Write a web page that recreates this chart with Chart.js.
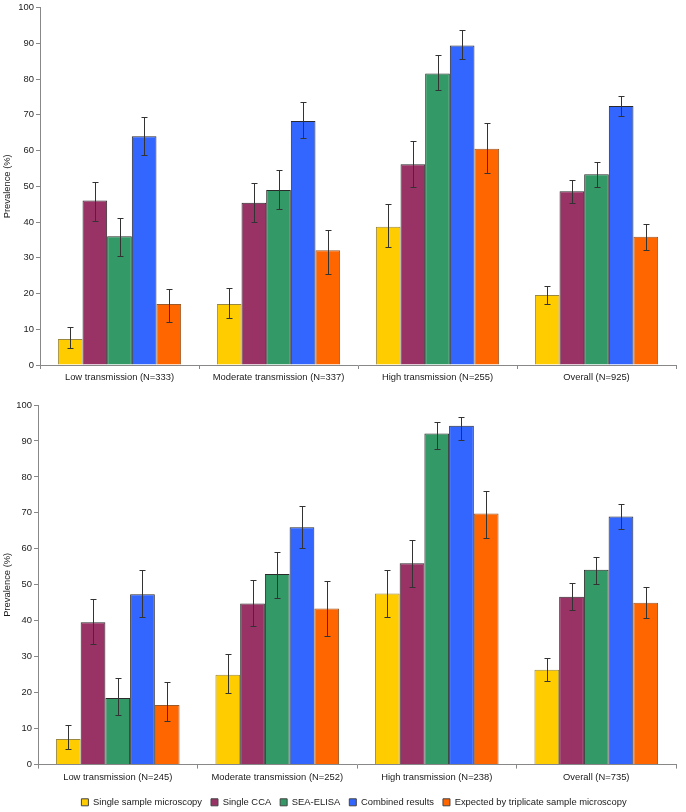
<!DOCTYPE html>
<html>
<head>
<meta charset="utf-8">
<script src="https://cdn.jsdelivr.net/npm/chart.js@4.4.1/dist/chart.umd.min.js"></script>
<style>
  body { margin: 0; background: #fff; overflow: hidden; }
  .box { position: absolute; left: 0; width: 686px; }
  #top-box { top: 0; height: 390px; }
  #bottom-box { top: 390px; height: 427px; }
</style>
</head>
<body>
<div class="box" id="top-box"><canvas id="topChart"></canvas></div>
<div class="box" id="bottom-box"><canvas id="bottomChart"></canvas></div>
<script>
// Dados dos dois gráficos
const seriesNames = ['Single sample microscopy', 'Single CCA', 'SEA-ELISA', 'Combined results', 'Expected by triplicate sample microscopy'];
const seriesColors = ['#FFCC00', '#993366', '#339966', '#3366FF', '#FF6600'];
const seriesBorders = ['#9a8840', '#2a2a2a', '#2a2a2a', '#2a2a2a', '#9a5a2a'];

const topLabels = ['Low transmission (N=333)', 'Moderate transmission (N=337)', 'High transmission (N=255)', 'Overall (N=925)'];
const bottomLabels = ['Low transmission (N=245)', 'Moderate transmission (N=252)', 'High transmission (N=238)', 'Overall (N=735)'];
const yTicks = [0, 10, 20, 30, 40, 50, 60, 70, 80, 90, 100];

// Gráfico de cima: valores e intervalos [baixo, alto]
const topMicroscopy = [7.3, 17.1, 38.7, 19.6];
const topMicroscopyErr = [[4.8, 10.7], [13.2, 21.5], [32.9, 45.1], [17.1, 22.2]];
const topCCA = [46.0, 45.4, 56.2, 48.6];
const topCCAErr = [[40.4, 51.3], [40.0, 50.9], [49.9, 62.6], [45.2, 51.7]];
const topElisa = [36.0, 49.0, 81.6, 53.4];
const topElisaErr = [[30.6, 41.2], [43.6, 54.5], [77.0, 86.8], [49.9, 56.7]];
const topCombined = [64.0, 68.3, 89.4, 72.5];
const topCombinedErr = [[58.9, 69.5], [63.5, 73.5], [85.7, 93.8], [69.6, 75.3]];
const topTriplicate = [17.1, 32.1, 60.5, 35.9];
const topTriplicateErr = [[11.9, 21.2], [25.6, 37.8], [53.8, 67.7], [32.1, 39.5]];

// Gráfico de baixo
const bottomMicroscopy = [7.1, 25.0, 47.6, 26.4];
const bottomMicroscopyErr = [[4.3, 11.1], [19.9, 30.8], [41.0, 54.2], [23.3, 29.7]];
const bottomCCA = [39.6, 44.8, 56.0, 46.7];
const bottomCCAErr = [[33.4, 46.1], [38.6, 51.4], [49.4, 62.4], [43.0, 50.5]];
const bottomElisa = [18.5, 53.0, 92.1, 54.2];
const bottomElisaErr = [[13.9, 24.0], [46.4, 59.2], [87.8, 95.2], [50.3, 57.8]];
const bottomCombined = [47.4, 66.0, 94.2, 69.0];
const bottomCombinedErr = [[41.0, 54.0], [60.2, 71.8], [90.3, 96.8], [65.6, 72.4]];
const bottomTriplicate = [16.6, 43.4, 69.8, 45.0];
const bottomTriplicateErr = [[12.1, 23.0], [35.8, 51.1], [63.0, 76.0], [40.8, 49.5]];

const FONT = 'Liberation Sans, Arial, sans-serif';
const FONT_SIZE = 9.4;

// Barras de erro desenhadas a partir das escalas
const errorBarPlugin = {
    id: 'errorBars',
    afterDatasetsDraw(chart) {
        const ctx = chart.ctx;
        const yScale = chart.scales.y;
        ctx.save();
        ctx.strokeStyle = '#333';
        ctx.lineWidth = 1;
        chart.data.datasets.forEach((ds, i) => {
            const meta = chart.getDatasetMeta(i);
            meta.data.forEach((bar, j) => {
                const err = ds.errors[j];
                const x = Math.round(bar.x) + 0.5;
                const yLo = Math.round(yScale.getPixelForValue(err[0])) + 0.5;
                const yHi = Math.round(yScale.getPixelForValue(err[1])) + 0.5;
                ctx.beginPath();
                ctx.moveTo(x, yLo); ctx.lineTo(x, yHi);
                ctx.moveTo(x - 3, yLo); ctx.lineTo(x + 3, yLo);
                ctx.moveTo(x - 3, yHi); ctx.lineTo(x + 3, yHi);
                ctx.stroke();
            });
        });
        ctx.restore();
    }
};

// Desloca a legenda um pouco para a direita, como no original
const legendShift = {
    id: 'legendShift',
    afterLayout(chart) {
        if (chart.legend && chart.options.plugins.legend.display) {
            chart.legend.left += 16;
            chart.legend.right += 16;
        }
    }
};

function buildDatasets(values, errors) {
    return values.map((v, i) => ({
        label: seriesNames[i],
        data: v,
        errors: errors[i],
        backgroundColor: seriesColors[i],
        borderColor: seriesBorders[i],
        borderWidth: 1,
        borderSkipped: 'bottom',
        categoryPercentage: 0.775,
        barPercentage: 1.0
    }));
}

function makeChart(canvasId, labels, values, errors, opts) {
    return new Chart(document.getElementById(canvasId), {
        type: 'bar',
        data: { labels: labels, datasets: buildDatasets(values, errors) },
        plugins: [errorBarPlugin, legendShift],
        options: {
            responsive: true,
            maintainAspectRatio: false,
            animation: false,
            layout: { padding: opts.padding },
            plugins: {
                tooltip: { enabled: false },
                legend: opts.legend
            },
            scales: {
                x: {
                    grid: { drawOnChartArea: false, color: '#888', tickLength: 4, offset: true },
                    border: { color: '#888' },
                    ticks: { color: '#1a1a1a', font: { family: FONT, size: FONT_SIZE }, maxRotation: 0, autoSkip: false, padding: 3 },
                    afterFit: (s) => { s.height = opts.xHeight; }
                },
                y: {
                    min: 0, max: 100,
                    afterBuildTicks: (s) => { s.ticks = yTicks.map(v => ({ value: v })); },
                    grid: { drawOnChartArea: false, color: '#888', tickLength: 4 },
                    border: { color: '#888' },
                    ticks: { color: '#1a1a1a', font: { family: FONT, size: FONT_SIZE }, padding: 2 },
                    title: { display: true, text: 'Prevalence (%)', color: '#1a1a1a', font: { family: FONT, size: FONT_SIZE }, padding: { top: 2, bottom: 0 } },
                    afterFit: (s) => { s.width = opts.yWidth; }
                }
            }
        }
    });
}

makeChart('topChart', topLabels,
    [topMicroscopy, topCCA, topElisa, topCombined, topTriplicate],
    [topMicroscopyErr, topCCAErr, topElisaErr, topCombinedErr, topTriplicateErr],
    { padding: { left: 0, right: 10, top: 6, bottom: 0 }, xHeight: 25, yWidth: 40, legend: { display: false } });

makeChart('bottomChart', bottomLabels,
    [bottomMicroscopy, bottomCCA, bottomElisa, bottomCombined, bottomTriplicate],
    [bottomMicroscopyErr, bottomCCAErr, bottomElisaErr, bottomCombinedErr, bottomTriplicateErr],
    { padding: { left: 0, right: 10, top: 15, bottom: 0 }, xHeight: 24, yWidth: 38,
      legend: {
          display: true,
          position: 'bottom',
          labels: {
              boxWidth: 7, boxHeight: 7, padding: 9, color: '#1a1a1a',
              font: { family: FONT, size: FONT_SIZE },
              generateLabels: (chart) => chart.data.datasets.map((ds, i) => ({
                  text: ds.label,
                  fillStyle: ds.backgroundColor,
                  strokeStyle: '#444',
                  lineWidth: 1,
                  datasetIndex: i,
                  fontColor: '#1a1a1a'
              }))
          }
      } });
</script>
</body>
</html>
